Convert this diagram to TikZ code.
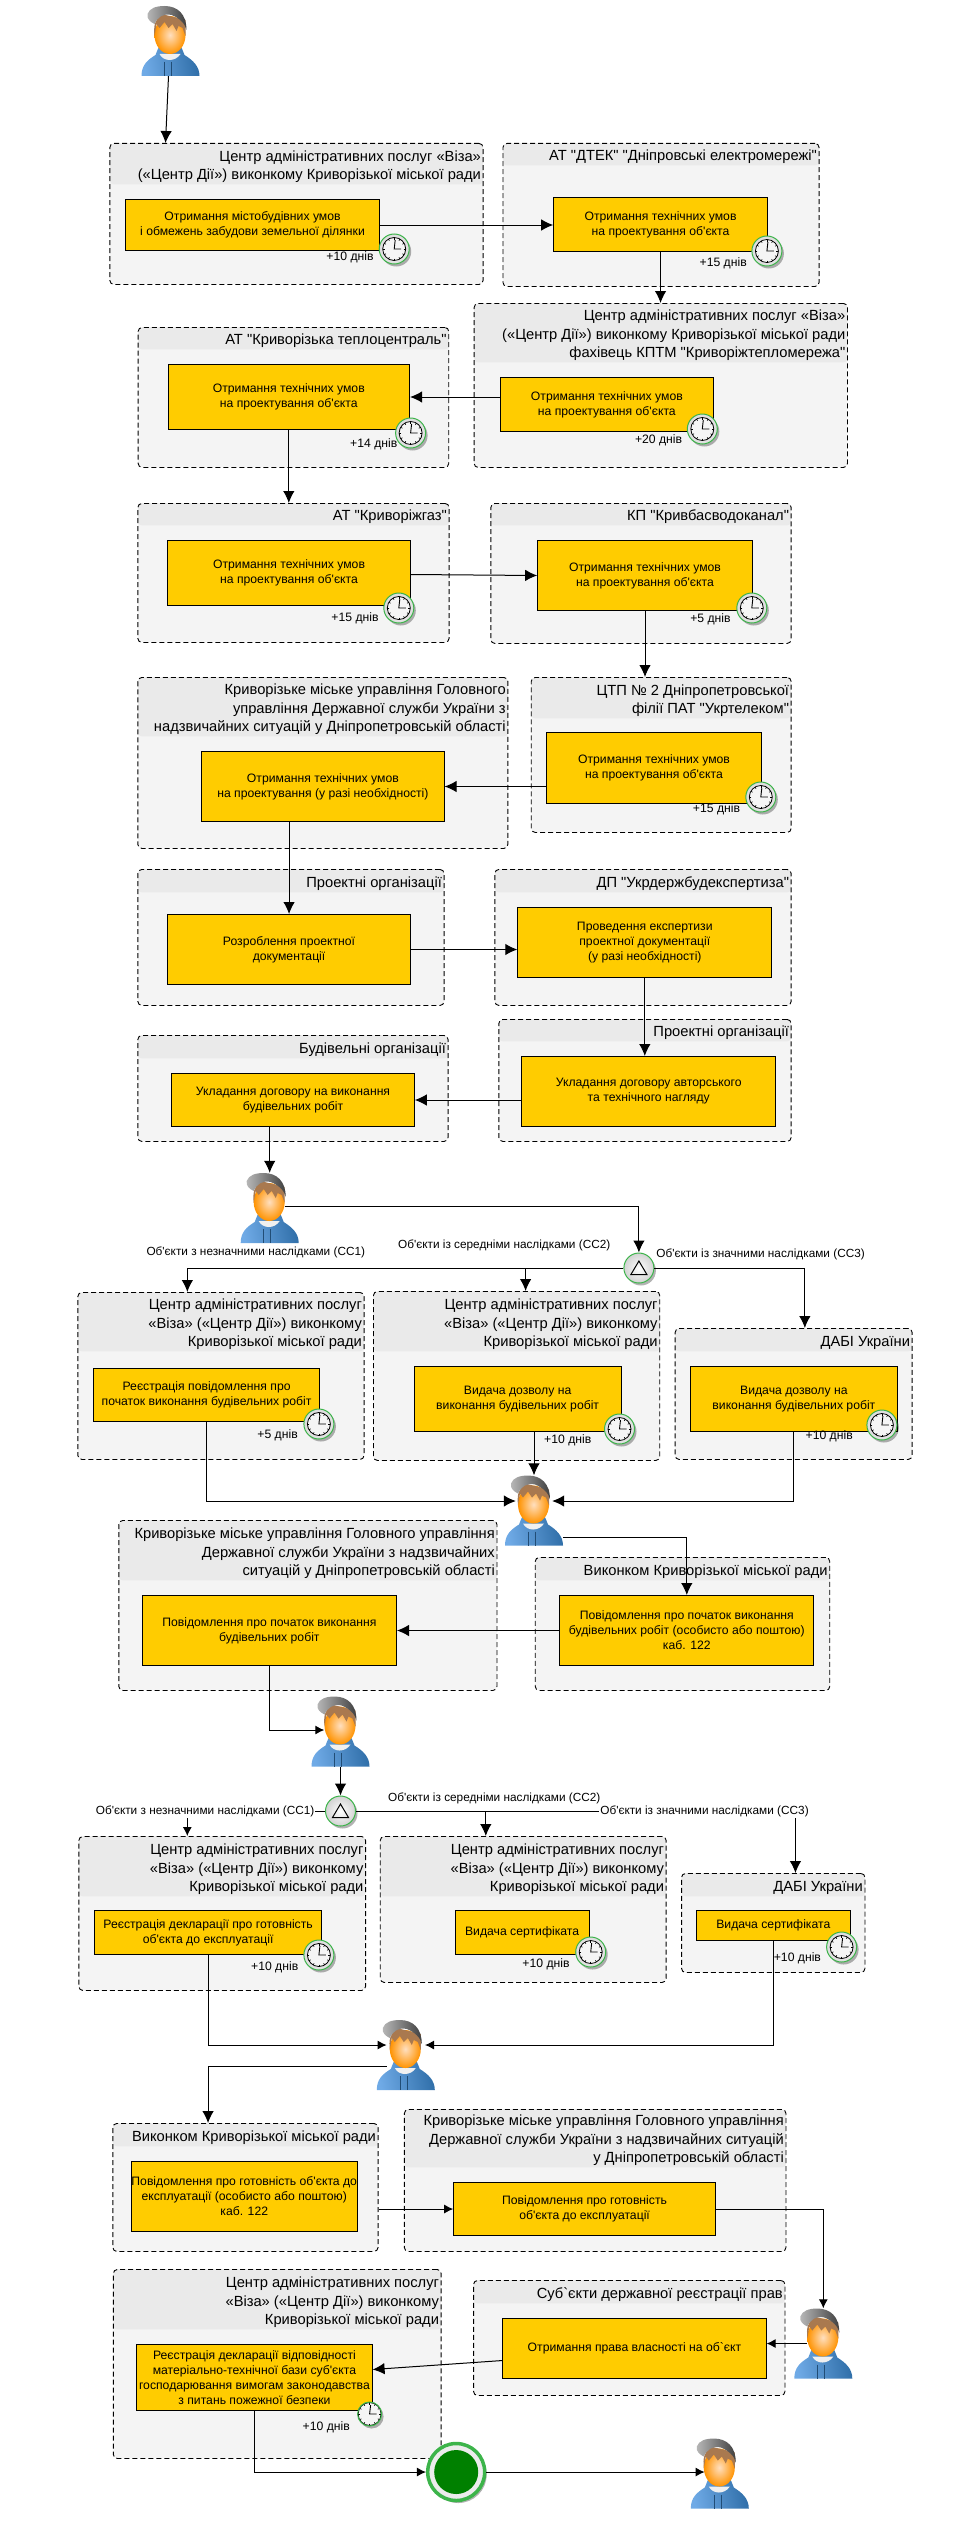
\documentclass[tikz,border=0pt]{standalone}
\usepackage{fontspec}
\usetikzlibrary{arrows.meta,calc,shadows}
\newfontfamily\uafont{Liberation Sans}
\definecolor{taskyellow}{HTML}{FFCC00}
\definecolor{lanefill}{HTML}{F4F4F4}
\definecolor{lanehead}{HTML}{EAEAEA}
\definecolor{evgreen}{HTML}{3CB44A}
\definecolor{enddark}{HTML}{008000}
\definecolor{hoodlight}{HTML}{6FAAE6}
\definecolor{hooddark}{HTML}{2F6EA8}
\definecolor{hairbrown}{HTML}{A9794F}
\tikzset{>={Latex[length=12pt,width=11.5pt]}}
\tikzstyle{smallhead}=[-{Latex[length=9pt,width=9pt]}]
\tikzstyle{task}=[rectangle,draw=black,fill=taskyellow,line width=1pt,align=center,inner sep=0pt,
  font=\uafont\fontsize{12.2}{15}\selectfont]
\tikzstyle{lanetitle}=[align=right,inner sep=1.5pt,font=\uafont\fontsize{14.7}{18.2}\selectfont]
\tikzstyle{days}=[inner sep=0pt,font=\uafont\fontsize{12.2}{15}\selectfont]
\tikzstyle{branch}=[inner sep=1pt,fill=white,font=\uafont\fontsize{11.8}{15}\selectfont]
\tikzset{
  flow/.style={->,line width=1pt},
  lane/.style={rectangle,draw=black,fill=lanefill,dashed,line width=0.9pt,rounded corners=4pt,inner sep=0pt,
    dash pattern=on 5pt off 3pt},
  clockev/.style={circle,draw=evgreen,line width=1pt,inner sep=0pt,minimum size=#1*30pt,
    inner color=white,outer color=gray!28,
    drop shadow={shadow xshift=2pt,shadow yshift=-2.5pt,fill=black,opacity=0.3},
    path picture={
      \begin{scope}[shift={(path picture bounding box.center)},scale=#1]
        \draw[black,line width=0.8pt,fill=white!92!gray] (0,0) circle (11.5);
        \foreach \a in {0,30,...,330}
          \draw[black,line width=0.6pt] (\a:9.5) -- (\a:11.5);
        \draw[black,line width=0.9pt] (1,-9) -- (0,0) -- (7,0);
      \end{scope}
    }},
  clockev/.default=1,
  gateway/.style={circle,draw=evgreen,line width=1pt,inner sep=0pt,minimum size=30pt,
    inner color=white,outer color=gray!35,
    drop shadow={shadow xshift=2pt,shadow yshift=-2.5pt,fill=black,opacity=0.3},
    path picture={
      \draw[black,line width=1pt,shift={(path picture bounding box.center)}]
        (-8,6.5) -- (8,6.5) -- (0,-7) -- cycle;
    }},
  endev/.style={circle,draw=evgreen,line width=3.5pt,inner sep=0pt,minimum size=57pt,fill=gray!15,
    drop shadow={shadow xshift=2pt,shadow yshift=-2.5pt,fill=black,opacity=0.3},
    path picture={
      \fill[enddark] (path picture bounding box.center) circle (22);
    }},
  person/.style={rectangle,inner sep=0pt,minimum width=58pt,minimum height=70pt},
  pics/usericon/.style={code={
    \begin{scope}[shift={(-29,-35)}]
      % hoodie
      \shade[left color=hoodlight,right color=hooddark,shading angle=100]
        (0,70) .. controls (0,59) and (6,54) .. (14,49) .. controls (16,44) and (17,41) .. (19,38)
        -- (38,38) .. controls (40,41) and (41,44) .. (43,49)
        .. controls (51,54) and (58,60) .. (58,70) -- cycle;
      \fill[gray!12] (18,48) .. controls (22,56) and (34,56) .. (39,48) -- cycle;
      \draw[hooddark!70!black,line width=0.5pt] (23,56) -- (23,70) (30,56) -- (30,70);
      % face
      \shade[inner color=orange!25!white,outer color=orange!85!yellow]
        (28.5,29) ellipse (15.5 and 19);
      % hair
      \fill[hairbrown]
        (13,30) .. controls (12,20) and (13,14) .. (20,8) -- (44,14)
        -- (44,30) -- (41,22) -- (37,20) -- (35,25) -- (31,18) -- (27,22) -- (23,16)
        -- (18,22) -- (15,18) -- cycle;
      % cap
      \shade[left color=gray!55,right color=black!75]
        (6,8) .. controls (8,2) and (15,0) .. (23,0) .. controls (36,0) and (45,8) .. (45,24)
        .. controls (44,18) and (38,12) .. (30,9) .. controls (22,7) and (16,11) .. (13,18)
        .. controls (9,16) and (5,13) .. (6,8) -- cycle;
    \end{scope}
  }}
}
% name, left, top, right, bottom, bottom of the head, title
\newcommand{\lanebox}[7]{
  \pgfmathsetmacro{\boxw}{#4-#2}
  \pgfmathsetmacro{\boxh}{#5-#3}
  \pgfmathsetmacro{\headh}{#6-#3}
  \node[lane,anchor=north west,minimum width=\boxw pt,minimum height=\boxh pt,
    path picture={\fill[lanehead] (path picture bounding box.north west) rectangle
      ([yshift=-\headh pt]path picture bounding box.north east);}] (#1) at (#2,#3) {};
  \node[lanetitle,anchor=south east] (#1title) at (#4,#6) {#7};
}
% name, left, top, right, bottom, text
\newcommand{\taskbox}[6]{
  \pgfmathsetmacro{\boxw}{#4-#2}
  \pgfmathsetmacro{\boxh}{#5-#3}
  \node[task,anchor=north west,minimum width=\boxw pt,minimum height=\boxh pt] (#1) at (#2,#3) {#6};
}
\begin{document}
\begin{tikzpicture}[x=1pt,y=-1pt]
\useasboundingbox (0,0) rectangle (978,2521);

\lanebox{g1}{109.4}{143}{482.6}{284}{184}{Центр адміністративних послуг «Віза»\\(«Центр Дії») виконкому Криворізької міської ради}
\lanebox{g2}{502.5}{143}{818.6}{286}{165}{АТ "ДТЕК" "Дніпровські електромережі"}
\lanebox{g3}{473.7}{303}{847}{467}{362}{Центр адміністративних послуг «Віза»\\(«Центр Дії») виконкому Криворізької міської ради\\фахівець КПТМ "Криворіжтепломережа"}
\lanebox{g4}{137.7}{327}{448.3}{467}{349}{АТ "Криворізька теплоцентраль"}
\lanebox{g5}{137.4}{503}{448.6}{642}{525}{АТ "Криворіжгаз"}
\lanebox{g6}{490.4}{503}{790.7}{643}{525}{КП "Кривбасводоканал"}
\lanebox{g7}{137.4}{677}{507.4}{848}{736}{Криворізьке міське управління Головного\\управління Державної служби  України з\\надзвичайних ситуацій у Дніпропетровській області}
\lanebox{g8}{530.8}{677}{790.7}{832}{718}{ЦТП № 2 Дніпропетровської\\філії ПАТ "Укртелеком"}
\lanebox{g9}{137.4}{869}{443.6}{1005}{892}{Проектні організації}
\lanebox{g10}{494.4}{869}{790.7}{1005}{892}{ДП "Укрдержбудекспертиза"}
\lanebox{g11}{498.4}{1019}{790.7}{1141}{1041}{Проектні організації}
\lanebox{g12}{137.4}{1035}{447.6}{1141}{1058}{Будівельні організації}
\lanebox{g13}{77.4}{1292}{363.6}{1459}{1351}{Центр адміністративних послуг\\«Віза» («Центр Дії») виконкому\\Криворізької міської ради}
\lanebox{g14}{373}{1291}{659.3}{1460}{1351}{Центр адміністративних послуг\\«Віза» («Центр Дії») виконкому\\Криворізької міської ради}
\lanebox{g15}{674.7}{1328}{911.7}{1459}{1351}{ДАБІ України}
\lanebox{g16}{118.4}{1520}{496.5}{1690}{1580}{Криворізьке міське управління Головного управління\\Державної служби України з надзвичайних\\ситуацій у Дніпропетровській області}
\lanebox{g17}{534.8}{1557}{829.3}{1690}{1580}{Виконком Криворізької міської ради}
\lanebox{g18}{78.4}{1836}{365.1}{1990}{1896}{Центр адміністративних послуг\\«Віза» («Центр Дії») виконкому\\Криворізької міської ради}
\lanebox{g19}{379.8}{1836}{665.7}{1982}{1896}{Центр адміністративних послуг\\«Віза» («Центр Дії») виконкому\\Криворізької міської ради}
\lanebox{g20}{681.1}{1873}{864.5}{1972}{1896}{ДАБІ України}
\lanebox{g21}{112.4}{2123}{377.6}{2251}{2146}{Виконком Криворізької міської ради}
\lanebox{g22}{403.9}{2109}{785.5}{2251}{2167}{Криворізьке міське управління Головного управління\\Державної служби України з  надзвичайних ситуацій\\у Дніпропетровській області}
\lanebox{g23}{112.9}{2269}{440.7}{2458}{2329}{Центр адміністративних послуг\\«Віза» («Центр Дії») виконкому\\Криворізької міської ради}
\lanebox{g24}{473.1}{2280}{784.5}{2395}{2303}{Суб`єкти державної реєстрації прав}

\taskbox{t1}{124.8}{199}{379.3}{250}{Отримання містобудівних умов\\і обмежень забудови земельної ділянки}
\taskbox{t2}{553.2}{197}{766.9}{251}{Отримання технічних умов\\на проектування об'єкта}
\taskbox{t3}{499.5}{377}{713.2}{431}{Отримання технічних умов\\на проектування об'єкта}
\taskbox{t4}{167.5}{364}{409.1}{429}{Отримання технічних умов\\на проектування об'єкта}
\taskbox{t5}{167.3}{540}{409.8}{605}{Отримання технічних умов\\на проектування об'єкта}
\taskbox{t6}{537.2}{540}{751.8}{610}{Отримання технічних умов\\на проектування об'єкта}
\taskbox{t7}{201.2}{751}{443.6}{821}{Отримання технічних умов\\на проектування (у разі необхідності)}
\taskbox{t8}{546.2}{732}{760.8}{803}{Отримання технічних умов\\на проектування об'єкта}
\taskbox{t9}{167.3}{914}{409.8}{984}{Розроблення проектної\\документації}
\taskbox{t10}{517.3}{907}{771.3}{977}{Проведення  експертизи\\проектної документації\\(у разі необхідності)}
\taskbox{t11}{521.3}{1056}{775.2}{1126}{Укладання договору авторського\\та технічного нагляду}
\taskbox{t12}{171.3}{1073}{413.8}{1126}{Укладання договору на виконання\\будівельних робіт}
\taskbox{t13}{92.8}{1368}{319.4}{1421}{Реєстрація повідомлення про\\початок виконання будівельних робіт}
\taskbox{t14}{413.8}{1366}{620.5}{1431}{Видача дозволу на\\виконання будівельних робіт}
\taskbox{t15}{690}{1366}{896.8}{1431}{Видача дозволу на\\виконання будівельних робіт}
\taskbox{t16}{141.8}{1595}{396}{1665}{Повідомлення про початок виконання\\будівельних робіт}
\taskbox{t17}{559.2}{1595}{813.4}{1665}{Повідомлення  про початок виконання\\будівельних робіт (особисто або поштою)\\каб. 122}
\taskbox{t18}{93.8}{1910}{321.4}{1954}{Реєстрація декларації про готовність\\об'єкта до експлуатації}
\taskbox{t19}{454.5}{1910}{588.7}{1954}{Видача сертифіката}
\taskbox{t20}{695.5}{1910}{850.1}{1940}{Видача сертифіката}
\taskbox{t21}{130.8}{2161}{356.7}{2231}{Повідомлення  про готовність об'єкта до\\експлуатації  (особисто або поштою)\\каб. 122}
\taskbox{t22}{453.2}{2182}{714.9}{2235}{Повідомлення  про готовність\\об'єкта до експлуатації}
\taskbox{t23}{136.3}{2344}{371.6}{2410}{Реєстрація декларації відповідності\\матеріально-технічної бази суб'єкта\\господарювання вимогам законодавства\\з питань пожежної безпеки}
\taskbox{t24}{502.4}{2318}{765.6}{2378}{Отримання права власності  на об`єкт}

\foreach \i/\x/\y in {1/394.2/249,2/766.9/251,3/702.3/429,4/410.6/433,5/398.8/608,6/751.8/608,8/760.8/797,13/318.9/1424,14/619.5/1429,15/881.9/1425,18/318.9/1955,19/590.7/1952,20/841.6/1947} {
	\node[clockev] (clock\i) at (\x,\y) {};
};
\node[clockev=0.8] (clock23) at (369.6,2414) {};

\foreach \i/\x/\y/\d in {1/350/257/10,2/723.2/263/15,3/658.6/440/20,4/373.8/444/14,5/355/618/15,6/710.5/619/5,8/716.5/809/15,13/277.6/1435/5,14/567.8/1440/10,15/829.2/1436/10,18/274.7/1967/10,19/546/1964/10,20/797.4/1958/10,23/326.3/2427/10} {
	\node[days] (days\i) at (\x,\y) {+\d\ днів};
};

\foreach \i/\x/\y in {1/170.5/41,2/269.7/1208,3/534/1510.5,4/340.5/1731.5,5/405.8/2055,6/823.3/2343.5,7/719.8/2473.5} {
	\pic at (\x,\y) {usericon};
	\node[person] (user\i) at (\x,\y) {};
};

\node[gateway] (gate1) at (638.9,1268) {};
\node[gateway] (gate2) at (340.5,1811) {};
\node[endev] (finish) at (456.2,2472) {};

\draw[flow] ([xshift=-2pt]user1.south) -- ($(g1.north west)+(56.1,0)$);
\draw[flow] (t1.east) -- (t1.east -| t2.west);
\draw[flow] (t2.south) -- (t2.south |- g3.north);
\draw[flow] (t3.west |- t4.east) -- (t4.east);
\draw[flow] (t4.south) -- (t4.south |- g5.north);
\draw[flow] ([yshift=-1.5pt]t5.east) -- (t6.west);
\draw[flow] (t6.south) -- (t6.south |- g8.north);
\draw[flow] (t8.west |- t7.east) -- (t7.east);
\draw[flow] (t9.north |- t7.south) -- (t9.north);
\draw[flow] (t9.east) -- (t9.east -| t10.west);
\draw[flow] (t10.south) -- (t10.south |- t11.north);
\draw[flow] (t11.west |- t12.east) -- (t12.east);
\draw[flow] (user2.north |- t12.south) -- (user2.north);

\draw[flow] ([xshift=-14pt,yshift=2pt]user2.east) -| (gate1.north);
\draw[flow] (gate1.west) -| ([xshift=-33.6pt]g13.north);
\draw[flow] ([xshift=9pt]g14.north |- gate1.west) -- ([xshift=9pt]g14.north);
\draw[flow] (gate1.east) -| ([xshift=11.2pt]g15.north);
\draw[flow] (t13.south) |- ([xshift=11pt,yshift=9.5pt]user3.west);
\draw[flow] (user3.north |- t14.south) -- (user3.north);
\draw[flow] (t15.south) |- ([xshift=-11pt,yshift=9.5pt]user3.east);

\draw[flow] ([yshift=-26.5pt]user3.east) -| (t17.north);
\draw[flow] (t17.west) -- (t16.east);
\draw[flow,smallhead] (t16.south) |- ([xshift=13pt,yshift=1.5pt]user4.west);
\draw[flow] (user4.south) -- (gate2.north);

\draw[flow,smallhead] (gate2.west) -| ([xshift=-34.9pt]g18.north);
\draw[flow] ([xshift=-37.4pt]g19.north |- gate2.west) -- ([xshift=-37.4pt]g19.north);
\draw[flow] (gate2.east) -| ([xshift=22.2pt]g20.north);
\draw[flow,smallhead] (t18.south) |- ([xshift=10pt,yshift=10pt]user5.west);
\draw[flow,smallhead] (t20.south) |- ([xshift=-10pt,yshift=10pt]user5.east);

\draw[flow] ([xshift=10pt,yshift=-11pt]user5.west) -| ([xshift=-37.4pt]g21.north);
\draw[flow,smallhead] (g21.east |- t22.west) -- (t22.west);
\draw[flow,smallhead] (t22.east) -| (user6.north);
\draw[flow,smallhead] ([xshift=13pt]user6.west) -- (user6.west -| t24.east);
\draw[flow] ([yshift=-12pt]t24.west) -- ([yshift=8pt]t23.east);
\draw[flow,smallhead] (t23.south) |- (finish.west);
\draw[flow,smallhead] (finish.east) -- ([xshift=14pt,yshift=1.5pt]user7.west);

\node[branch] (cc1a) at (255.8,1252) {Об'єкти з незначними наслідками (СС1)};
\node[branch] (cc2a) at (504.2,1245) {Об'єкти із середніми наслідками (СС2)};
\node[branch] (cc3a) at (760.6,1254) {Об'єкти із значними наслідками (СС3)};
\node[branch] (cc1b) at (205.1,1811) {Об'єкти з незначними наслідками (СС1)};
\node[branch] (cc2b) at (494.3,1798) {Об'єкти із середніми наслідками (СС2)};
\node[branch] (cc3b) at (704.5,1811) {Об'єкти із значними наслідками (СС3)};

\end{tikzpicture}
\end{document}
